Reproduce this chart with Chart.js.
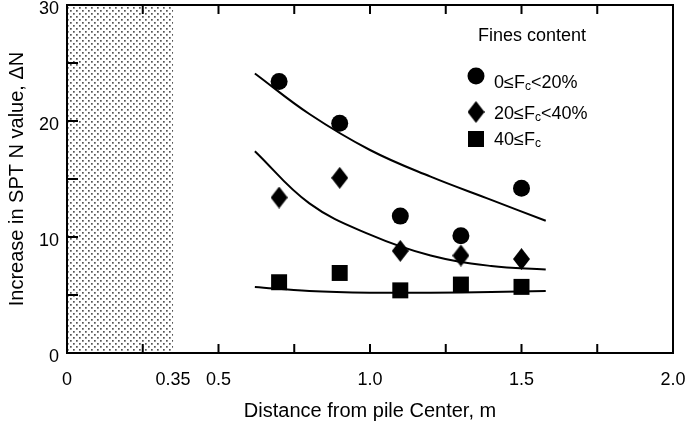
<!DOCTYPE html>
<html>
<head>
<meta charset="utf-8">
<script src="https://cdn.jsdelivr.net/npm/chart.js@4/dist/chart.umd.min.js"></script>
<style>
  html, body { margin: 0; padding: 0; background: #fff; }
  #wrap { width: 687px; height: 429px; }
</style>
</head>
<body>
<div id="wrap"><canvas id="sptChart"></canvas></div>
<script>
// values
const distance = [0.7, 0.9, 1.1, 1.3, 1.5];
const dnFines0to20 = [23.4, 19.8, 11.8, 10.1, 14.2];
const dnFines20to40 = [13.4, 15.1, 8.8, 8.4, 8.1];
const dnFines40up = [6.1, 6.9, 5.4, 5.9, 5.7];

// fitted trend curves
const fitX = [0.62, 0.8, 1.0, 1.2, 1.4, 1.58];
const fit0to20 = [24.1, 20.6, 17.5, 15.2, 13.2, 11.4];
const fit20to40 = [17.4, 12.9, 10.2, 8.4, 7.5, 7.2];
const fit40up = [5.7, 5.35, 5.2, 5.2, 5.25, 5.35];

const xTickLabels = [0, 0.35, 0.5, 1.0, 1.5, 2.0];
const xTickMarks = [0.25, 0.5, 0.75, 1.0, 1.25, 1.5, 1.75];
const yTickLabels = [0, 10, 20, 30];
const yTickMarks = [5, 10, 15, 20, 25];
const pileRadius = 0.35;

const FONT = 'Arial, "Liberation Sans", Helvetica, sans-serif';

function toXY(xs, ys) {
    return xs.map((v, i) => ({x: v, y: ys[i]}));
}

// diamond marker is taller than wide
const diamond = document.createElement('canvas');
diamond.width = 17;
diamond.height = 22;
(function() {
    const c = diamond.getContext('2d');
    c.fillStyle = '#000';
    c.beginPath();
    c.moveTo(8.5, 0);
    c.lineTo(17, 11);
    c.lineTo(8.5, 22);
    c.lineTo(0, 11);
    c.closePath();
    c.fill();
})();

function dotPattern(ctx) {
    const tile = document.createElement('canvas');
    tile.width = 6;
    tile.height = 6;
    const t = tile.getContext('2d');
    t.fillStyle = '#fff';
    t.fillRect(0, 0, 6, 6);
    t.fillStyle = '#555';
    t.fillRect(1, 1, 1.7, 1.7);
    t.fillRect(4, 4, 1.7, 1.7);
    return ctx.createPattern(tile, 'repeat');
}

function drawSubText(ctx, parts, x, y) {
    let cx = x;
    parts.forEach(p => {
        ctx.font = p[1] ? '12px ' + FONT : '18px ' + FONT;
        ctx.fillText(p[0], cx, p[1] ? y + 4 : y);
        cx += ctx.measureText(p[0]).width;
    });
}

const framePlugin = {
    id: 'frame',
    beforeDatasetsDraw(chart) {
        const {ctx, chartArea: a, scales: {x}} = chart;
        ctx.save();
        ctx.fillStyle = dotPattern(ctx);
        ctx.fillRect(a.left, a.top, x.getPixelForValue(pileRadius) - a.left, a.bottom - a.top);
        ctx.restore();
    },
    afterDatasetsDraw(chart) {
        const {ctx, chartArea: a, scales: {x, y}} = chart;
        ctx.save();
        ctx.strokeStyle = '#000';
        ctx.lineWidth = 2;
        ctx.strokeRect(a.left, a.top, a.right - a.left, a.bottom - a.top);
        ctx.beginPath();
        xTickMarks.forEach(v => {
            const px = x.getPixelForValue(v);
            ctx.moveTo(px, a.bottom);
            ctx.lineTo(px, a.bottom - 9);
            ctx.moveTo(px, a.top);
            ctx.lineTo(px, a.top + 9);
        });
        yTickMarks.forEach(v => {
            const py = y.getPixelForValue(v);
            ctx.moveTo(a.left, py);
            ctx.lineTo(a.left + 11, py);
        });
        ctx.stroke();
        ctx.restore();
    },
    afterDraw(chart) {
        // legend inside the plot, with subscripts
        const {ctx, chartArea: a} = chart;
        const lx = a.right - 197;
        ctx.save();
        ctx.fillStyle = '#000';
        ctx.textBaseline = 'middle';
        ctx.font = '18px ' + FONT;
        ctx.textAlign = 'center';
        ctx.fillText('Fines content', a.right - 141, a.top + 31);
        ctx.textAlign = 'left';
        const items = [
            {style: 'circle', r: 8.5, dy: 71, ty: 78, text: [['0≤F', 0], ['c', 1], ['<20%', 0]]},
            {style: diamond, r: 10, dy: 107, ty: 109, text: [['20≤F', 0], ['c', 1], ['<40%', 0]]},
            {style: 'rect', r: 11.3, dy: 134, ty: 135, text: [['40≤F', 0], ['c', 1]]}
        ];
        items.forEach(it => {
            Chart.helpers.drawPoint(ctx, {pointStyle: it.style, radius: it.r, rotation: 0}, lx, a.top + it.dy);
            drawSubText(ctx, it.text, lx + 18, a.top + it.ty);
        });
        ctx.restore();
    }
};

function fitLine(data) {
    return {
        type: 'line',
        data: data,
        borderColor: '#000',
        borderWidth: 2,
        pointRadius: 0,
        fill: false,
        tension: 0.4
    };
}

function markers(data, style, radius) {
    return {
        type: 'scatter',
        data: data,
        pointStyle: style,
        pointRadius: radius,
        pointHoverRadius: radius,
        backgroundColor: '#000',
        borderColor: '#000',
        borderWidth: 0
    };
}

new Chart(document.getElementById('sptChart').getContext('2d'), {
    data: {
        datasets: [
            fitLine(toXY(fitX, fit0to20)),
            fitLine(toXY(fitX, fit20to40)),
            fitLine(toXY(fitX, fit40up)),
            markers(toXY(distance, dnFines0to20), 'circle', 8.5),
            markers(toXY(distance, dnFines20to40), diamond, 10),
            markers(toXY(distance, dnFines40up), 'rect', 11.3)
        ]
    },
    options: {
        responsive: true,
        maintainAspectRatio: false,
        animation: false,
        layout: {
            autoPadding: false,
            padding: {top: 5, right: 14, left: 0, bottom: 0}
        },
        plugins: {
            legend: {display: false},
            tooltip: {enabled: false}
        },
        scales: {
            x: {
                type: 'linear',
                min: 0,
                max: 2,
                afterBuildTicks: s => { s.ticks = xTickLabels.map(v => ({value: v})); },
                afterFit: s => {
                    s.height = 76;
                    s.paddingLeft = 0;
                    s.paddingRight = 0;
                },
                grid: {display: false, drawTicks: false},
                border: {display: false},
                ticks: {
                    color: '#000',
                    padding: 16,
                    maxRotation: 0,
                    font: {family: FONT, size: 18},
                    callback: v => v === 0 ? '0' : (v === 0.35 ? '0.35' : v.toFixed(1))
                },
                title: {
                    display: true,
                    text: 'Distance from pile Center, m',
                    color: '#000',
                    font: {family: FONT, size: 20},
                    padding: {top: 0, bottom: 6}
                }
            },
            y: {
                type: 'linear',
                min: 0,
                max: 30,
                afterBuildTicks: s => { s.ticks = yTickLabels.map(v => ({value: v})); },
                afterFit: s => {
                    s.width = 67;
                    s.paddingTop = 0;
                    s.paddingBottom = 0;
                },
                grid: {display: false, drawTicks: false},
                border: {display: false},
                ticks: {
                    color: '#000',
                    padding: 8,
                    labelOffset: 4,
                    font: {family: FONT, size: 18}
                },
                title: {
                    display: true,
                    text: 'Increase in SPT N value, ΔN',
                    color: '#000',
                    font: {family: FONT, size: 20},
                    padding: {top: 5, bottom: 0}
                }
            }
        }
    },
    plugins: [framePlugin]
});
</script>
</body>
</html>
